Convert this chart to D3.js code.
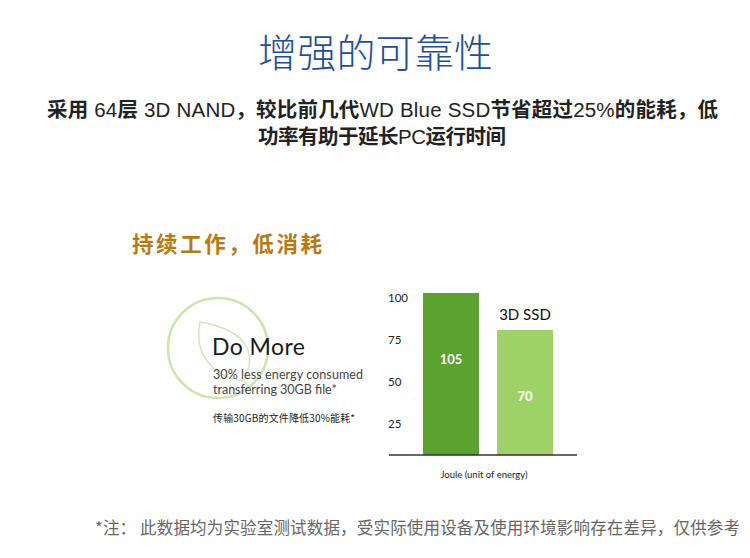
<!DOCTYPE html>
<html>
<head>
<meta charset="utf-8">
<script src="https://cdn.jsdelivr.net/npm/d3@7"></script>
<style>
  body { margin: 0; background: #fff; }
  svg { display: block; }
  .cn { font-family: "Noto Sans CJK SC", sans-serif; }
  .lat { font-family: Lato, "Open Sans", sans-serif; }
</style>
</head>
<body>
<div class="chart"></div>
<script>
// chart data
const categories = ['Previous', '3D SSD'];
const barHeights = [103, 81];      // where the bars reach on the axis
const barLabels = ['105', '70'];   // numbers printed on the bars
const tickValues = [100, 75, 50, 25];
const axisFloor = 6.5;             // axis line sits a bit above zero

const width = 750, height = 558;

const svg = d3.select('.chart')
  .append('svg')
  .attr('width', width)
  .attr('height', height);

svg.append('rect')
  .attr('width', width)
  .attr('height', height)
  .attr('fill', '#fff');

// headings
svg.append('text')
  .attr('class', 'cn')
  .attr('x', 258)
  .attr('y', 67)
  .attr('textLength', 235)
  .attr('lengthAdjust', 'spacing')
  .style('font-size', '39px')
  .style('font-weight', 300)
  .style('fill', '#1c4fa0')
  .text('增强的可靠性');

// subtitle: chinese runs bold, latin runs in an arial-like face
function mixedLine(str, x0, y0, len) {
  const t = svg.append('text')
    .attr('x', x0)
    .attr('y', y0)
    .attr('textLength', len)
    .attr('lengthAdjust', 'spacing')
    .style('font-size', '20.5px')
    .style('fill', '#222');
  const runs = str.match(/[\u3000-\u9fff\uff00-\uffef]+|[^\u3000-\u9fff\uff00-\uffef]+/g);
  runs.forEach(r => {
    const cjk = /[\u3000-\u9fff\uff00-\uffef]/.test(r);
    t.append('tspan')
      .attr('font-family', cjk ? '"Noto Sans CJK SC", sans-serif' : '"Liberation Sans", Arial, sans-serif')
      .style('font-weight', cjk ? 700 : 400)
      .text(r);
  });
}
mixedLine('采用 64层 3D NAND，较比前几代WD Blue SSD节省超过25%的能耗，低', 47, 117, 671);
mixedLine('功率有助于延长PC运行时间', 258, 144, 248);

svg.append('text')
  .attr('class', 'cn')
  .attr('x', 132)
  .attr('y', 252)
  .attr('textLength', 190)
  .attr('lengthAdjust', 'spacing')
  .style('font-size', '21.5px')
  .style('font-weight', 700)
  .style('fill', '#b8790f')
  .text('持续工作，低消耗');

// leaf badge
svg.append('circle')
  .attr('cx', 218)
  .attr('cy', 348)
  .attr('r', 50)
  .style('fill', 'none')
  .style('stroke', '#c9e6ab')
  .style('stroke-width', 2.5);

svg.append('path')
  .attr('d', 'M200,322 C194,352 210,376 244,381 C258,352 246,330 200,322 Z M244,381 L250,388')
  .style('fill', 'none')
  .style('stroke', '#cfe8b6')
  .style('stroke-width', 1.5);

svg.append('text')
  .attr('class', 'lat')
  .attr('x', 212)
  .attr('y', 355)
  .attr('textLength', 93)
  .attr('lengthAdjust', 'spacing')
  .style('font-size', '23px')
  .style('fill', '#1a1a1a')
  .text('Do More');

svg.append('text')
  .attr('class', 'lat')
  .attr('x', 213)
  .attr('y', 379)
  .attr('textLength', 150)
  .attr('lengthAdjust', 'spacing')
  .style('font-size', '12.5px')
  .style('fill', '#444')
  .text('30% less energy consumed');

svg.append('text')
  .attr('class', 'lat')
  .attr('x', 213)
  .attr('y', 394)
  .style('font-size', '12.5px')
  .style('fill', '#444')
  .text('transferring 30GB file*');

svg.append('text')
  .attr('class', 'cn')
  .attr('x', 213)
  .attr('y', 422)
  .attr('textLength', 142)
  .attr('lengthAdjust', 'spacing')
  .style('font-size', '10px')
  .style('fill', '#222')
  .text('传输30GB的文件降低30%能耗*');

// bar chart
const y = d3.scaleLinear()
  .domain([0, 100])
  .range([466, 298]);

const x = d3.scaleBand()
  .domain(categories)
  .range([423, 553])
  .paddingInner(0.243)
  .paddingOuter(0);

const yAxis = svg.append('g')
  .attr('transform', 'translate(388,0)')
  .call(d3.axisRight(y).tickValues(tickValues).tickSize(0).tickPadding(0));
yAxis.select('.domain').remove();
yAxis.selectAll('text')
  .attr('font-family', 'Lato, sans-serif')
  .style('font-size', '11.5px')
  .style('fill', '#222');

const barColors = ['#5aa32f', '#9fd266'];

svg.selectAll('.bar')
  .data(categories)
  .enter()
  .append('rect')
  .attr('class', 'bar')
  .attr('x', d => x(d))
  .attr('y', (d, i) => y(barHeights[i]))
  .attr('width', x.bandwidth())
  .attr('height', (d, i) => y(axisFloor) - y(barHeights[i]))
  .style('fill', (d, i) => barColors[i]);

svg.selectAll('.barlabel')
  .data(categories)
  .enter()
  .append('text')
  .attr('class', 'barlabel lat')
  .attr('x', d => x(d) + x.bandwidth() / 2)
  .attr('y', (d, i) => y(barHeights[i]) + 71)
  .attr('text-anchor', 'middle')
  .style('font-size', '13px')
  .style('font-weight', 700)
  .style('fill', '#fff')
  .text((d, i) => barLabels[i]);

svg.append('text')
  .attr('class', 'lat')
  .attr('x', x('3D SSD') + x.bandwidth() / 2)
  .attr('y', y(barHeights[1]) - 10)
  .attr('text-anchor', 'middle')
  .style('font-size', '15px')
  .style('fill', '#111')
  .text('3D SSD');

svg.append('line')
  .attr('x1', 389)
  .attr('x2', 577)
  .attr('y1', y(axisFloor))
  .attr('y2', y(axisFloor))
  .style('stroke', '#333')
  .style('stroke-width', 1.5);

svg.append('text')
  .attr('class', 'lat')
  .attr('x', 484)
  .attr('y', 478)
  .attr('text-anchor', 'middle')
  .style('font-size', '9.5px')
  .style('fill', '#222')
  .text('Joule (unit of energy)');

// footnote
svg.append('text')
  .attr('class', 'cn')
  .attr('x', 95)
  .attr('y', 534)
  .attr('textLength', 645)
  .attr('lengthAdjust', 'spacing')
  .style('font-size', '16.5px')
  .style('fill', '#666')
  .text('*注： 此数据均为实验室测试数据，受实际使用设备及使用环境影响存在差异，仅供参考');
</script>
</body>
</html>
